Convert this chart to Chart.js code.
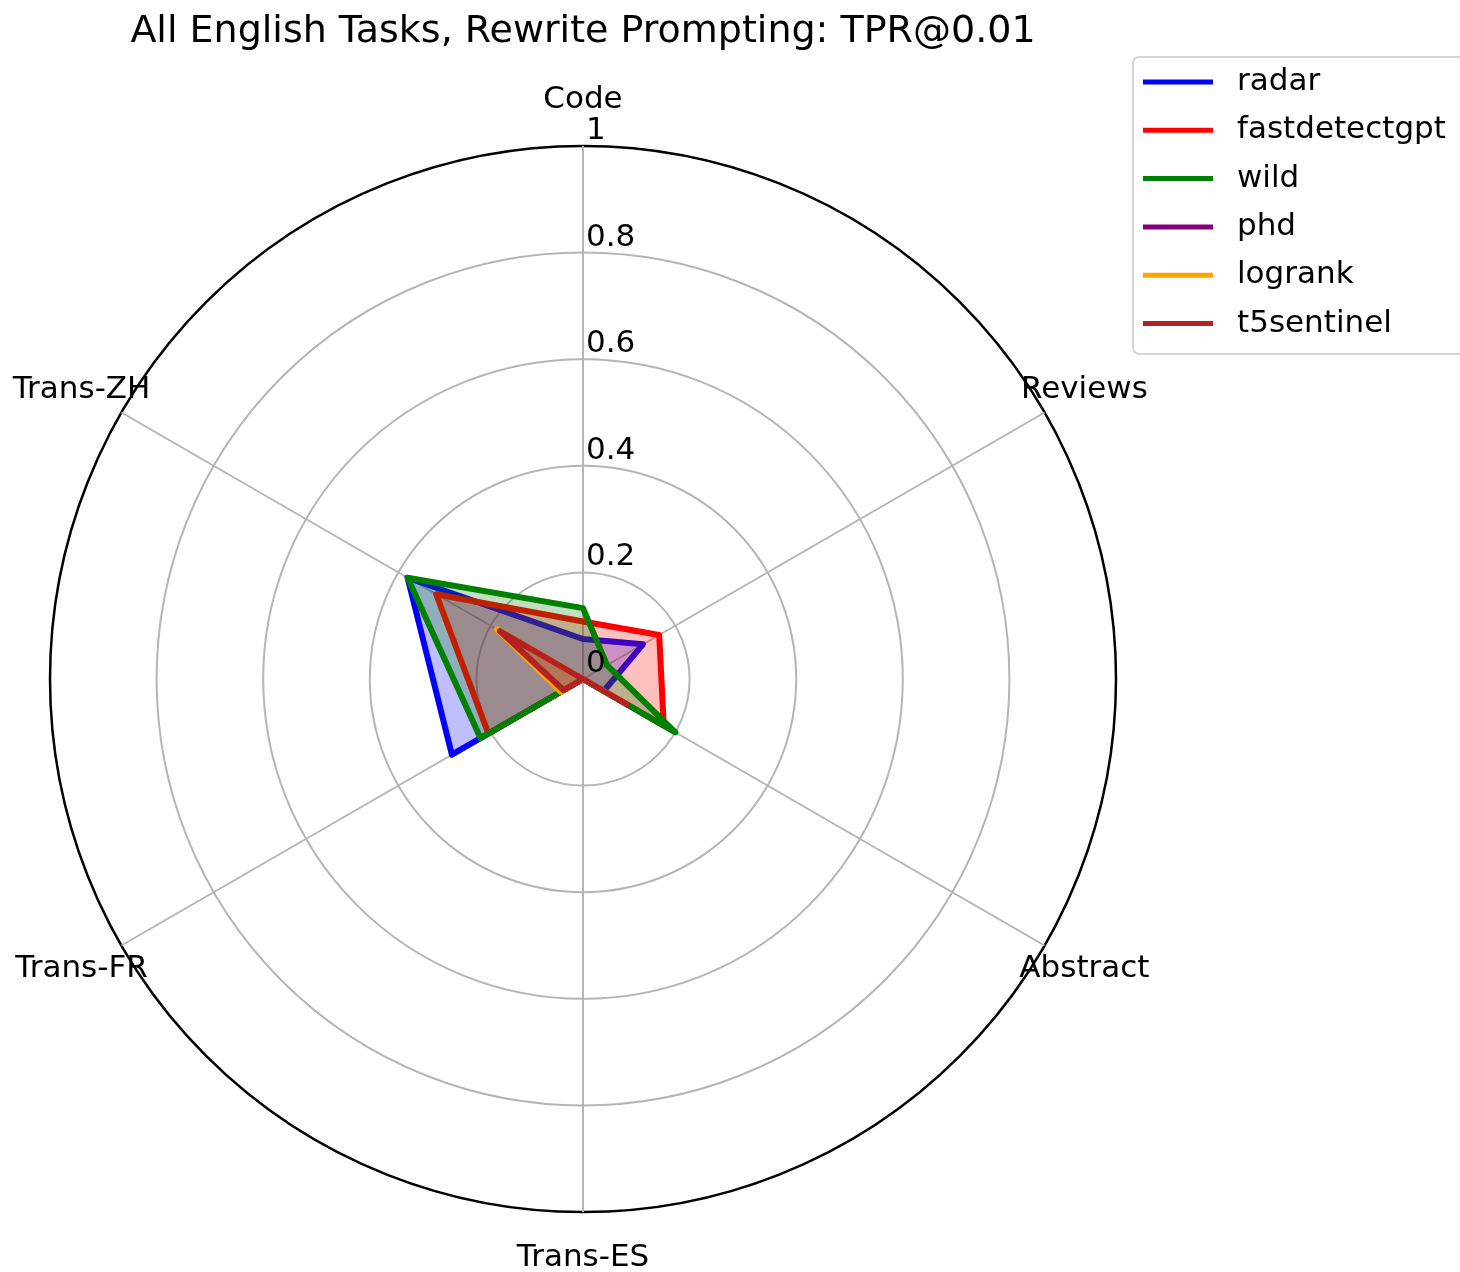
<!DOCTYPE html>
<html>
<head>
<meta charset="utf-8">
<title>All English Tasks, Rewrite Prompting: TPR@0.01</title>
<script src="https://cdn.jsdelivr.net/npm/chart.js@4.4.1/dist/chart.umd.min.js"></script>
<style>
  html, body { margin: 0; padding: 0; background: #ffffff; }
  #wrap { width: 1460px; height: 1272px; }
</style>
</head>
<body>
<div id="wrap"><canvas id="chart" width="1460" height="1272"></canvas></div>
<script>
// Task axes, clockwise from the top
const categories = ['Code', 'Reviews', 'Abstract', 'Trans-ES', 'Trans-FR', 'Trans-ZH'];

// TPR@0.01 per detector, in the same order as the categories
const radar         = [0.075, 0.130, 0.045, 0.000, 0.284, 0.380];
const fastdetectgpt = [0.108, 0.165, 0.175, 0.000, 0.205, 0.318];
const wild          = [0.133, 0.052, 0.200, 0.000, 0.222, 0.380];
const phd           = [0.000, 0.000, 0.000, 0.000, 0.000, 0.000];
const logrank       = [0.000, 0.000, 0.090, 0.000, 0.048, 0.186];
const t5sentinel    = [0.000, 0.000, 0.095, 0.000, 0.042, 0.180];

const seriesNames  = ['radar', 'fastdetectgpt', 'wild', 'phd', 'logrank', 't5sentinel'];
const seriesValues = [radar, fastdetectgpt, wild, phd, logrank, t5sentinel];
const seriesColors = ['#0000ff', '#ff0000', '#008000', '#800080', '#ffa500', '#b22222'];

// Radial ticks and their printed labels
const tickValues = [0, 0.2, 0.4, 0.6, 0.8, 1];
const tickLabels = ['0', '0.2', '0.4', '0.6', '0.8', '1'];

const titleText = 'All English Tasks, Rewrite Prompting: TPR@0.01';
const FONT = '"DejaVu Sans", "Liberation Sans", sans-serif';

function withAlpha(hex, a) {
  const n = parseInt(hex.slice(1), 16);
  return `rgba(${(n >> 16) & 255}, ${(n >> 8) & 255}, ${n & 255}, ${a})`;
}

const datasets = seriesNames.map((name, i) => ({
  label: name,
  data: seriesValues[i],
  borderColor: seriesColors[i],
  backgroundColor: withAlpha(seriesColors[i], 0.25),
  borderWidth: 6,
  borderJoinStyle: 'round',
  borderCapStyle: 'round',
  fill: true,
  pointRadius: 0,
  pointHoverRadius: 0,
  // later series are painted over earlier ones
  order: seriesNames.length - i
}));

// Title, axis captions, radial tick labels and the legend box
const decorations = {
  id: 'decorations',
  afterDraw(chart) {
    const ctx = chart.ctx;
    const r = chart.scales.r;
    ctx.save();

    // title
    ctx.fillStyle = '#000';
    ctx.font = `38px ${FONT}`;
    ctx.textAlign = 'center';
    ctx.textBaseline = 'alphabetic';
    ctx.fillText(titleText, r.xCenter, 42);

    // category captions, centred just outside the outer ring
    ctx.font = `31px ${FONT}`;
    ctx.textBaseline = 'middle';
    categories.forEach((c, i) => {
      const p = r.getPointPosition(i, r.drawingArea + 46);
      ctx.fillText(c, p.x, p.y);
    });

    // radial tick labels along the top spoke
    ctx.textAlign = 'left';
    ctx.textBaseline = 'alphabetic';
    tickValues.forEach((v, k) => {
      const d = r.getDistanceFromCenterForValue(v);
      ctx.fillText(tickLabels[k], r.xCenter + 3, r.yCenter - d - 7);
    });

    // legend
    const lx = 1133, ly = 57, lw = 340, lh = 297, rad = 6;
    ctx.beginPath();
    ctx.moveTo(lx + rad, ly);
    ctx.lineTo(lx + lw - rad, ly);
    ctx.arcTo(lx + lw, ly, lx + lw, ly + rad, rad);
    ctx.lineTo(lx + lw, ly + lh - rad);
    ctx.arcTo(lx + lw, ly + lh, lx + lw - rad, ly + lh, rad);
    ctx.lineTo(lx + rad, ly + lh);
    ctx.arcTo(lx, ly + lh, lx, ly + lh - rad, rad);
    ctx.lineTo(lx, ly + rad);
    ctx.arcTo(lx, ly, lx + rad, ly, rad);
    ctx.closePath();
    ctx.fillStyle = 'rgba(255,255,255,0.8)';
    ctx.fill();
    ctx.strokeStyle = '#d6d6d6';
    ctx.lineWidth = 2;
    ctx.stroke();

    ctx.font = `31px ${FONT}`;
    ctx.textBaseline = 'middle';
    ctx.textAlign = 'left';
    chart.data.datasets.forEach((ds, i) => {
      const y = 82 + i * 48.3;
      ctx.beginPath();
      ctx.moveTo(1143, y);
      ctx.lineTo(1213, y);
      ctx.strokeStyle = ds.borderColor;
      ctx.lineWidth = 5;
      ctx.lineCap = 'butt';
      ctx.stroke();
      ctx.fillStyle = '#000';
      ctx.fillText(ds.label, 1237, y);
    });

    ctx.restore();
  }
};

new Chart(document.getElementById('chart'), {
  type: 'radar',
  data: { labels: categories, datasets },
  options: {
    responsive: false,
    animation: false,
    layout: { padding: { left: 50, right: 343, top: 146, bottom: 59 } },
    elements: { line: { tension: 0 } },
    plugins: {
      legend: { display: false },
      tooltip: { enabled: false },
      title: { display: false }
    },
    scales: {
      r: {
        min: 0,
        max: 1,
        ticks: { stepSize: 0.2, display: false },
        pointLabels: { display: false },
        angleLines: { display: true, color: '#b5b5b5', lineWidth: 2 },
        grid: {
          circular: true,
          color: (c) => (c.tick && c.tick.value === 1 ? '#000000' : '#b5b5b5'),
          lineWidth: (c) => (c.tick && c.tick.value === 1 ? 2.5 : 2)
        }
      }
    }
  },
  plugins: [decorations]
});
</script>
</body>
</html>
